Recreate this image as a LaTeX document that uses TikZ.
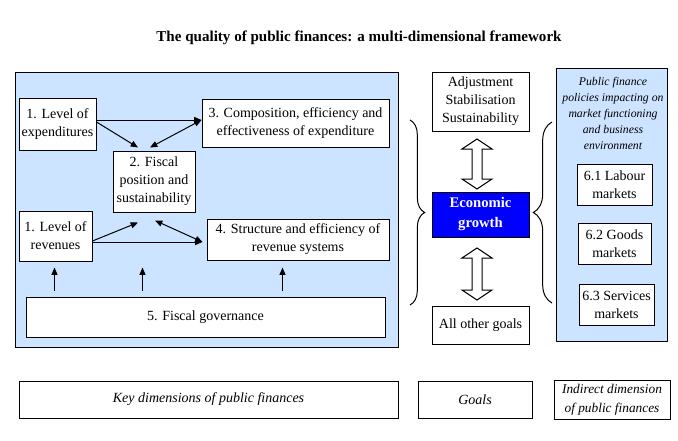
\documentclass[tikz,border=0pt]{standalone}
\usepackage{fontspec}
\setmainfont{Liberation Serif}
\usetikzlibrary{arrows.meta,calc,decorations.pathreplacing}
\definecolor{paleblue}{RGB}{204,228,255}
\definecolor{growthblue}{RGB}{0,0,255}
% box from pixel corners (x1,y1)-(x2,y2)
\newcommand\pbox[7]{\node[box,#6,minimum width={(#4-#2)*0.75pt},minimum height={(#5-#3)*0.75pt}] (#1) at ({(#2+#4)/2},{(#3+#5)/2}) {#7};}
\begin{document}
\begin{tikzpicture}[x=0.75pt,y=-0.75pt,
  box/.style={draw=black, line width=0.75pt, fill=white, inner sep=0pt, align=center, font=\fontsize{10.5}{13.5}\selectfont},
  panel/.style={fill=paleblue},
  arr/.style={line width=0.75pt, -{Triangle[length=5.5pt,width=4.5pt]}},
  darr/.style={line width=0.75pt, {Triangle[length=5.5pt,width=4.5pt]}-{Triangle[length=5.5pt,width=4.5pt]}},
  curly/.style={line width=0.75pt, decorate, decoration={brace, amplitude=#1}},
  blockarrow/.style={draw=black, line width=0.75pt, fill=white, line join=miter},
  itlabel/.style={font=\itshape\fontsize{10.5}{14}\selectfont}
]
\useasboundingbox (0,0) rectangle (678,440);

% title
\node[font=\bfseries\fontsize{11.3}{13}\selectfont, inner sep=0pt] (title) at (359,38)
  {The quality of public finances: a multi-dimensional framework};

% left panel
\pbox{left}{15}{72}{398}{347}{panel}{}
\pbox{exp}{19}{98}{96}{150}{}{1. Level of\\expenditures}
\pbox{comp}{202}{99}{389}{147}{}{3. Composition, efficiency and\\effectiveness of expenditure}
\pbox{fis}{113}{151}{195}{212}{}{2. Fiscal\\position and\\sustainability}
\pbox{rev}{19}{211}{92}{261}{}{1. Level of\\revenues}
\pbox{struct}{207}{219}{389}{260}{}{4. Structure and efficiency of\\revenue systems}
\pbox{gov}{26}{297}{385}{337}{}{5. Fiscal governance}

\draw[arr] ($(exp.east)+(0,-4)$) -- ($(comp.west)+(0,-3)$);
\draw[arr] ($(exp.east)+(0,-2)$) -- ($(fis.north)+(-16,-3)$);
\draw[darr] ($(comp.west)+(0,-3)$) -- ($(fis.north)+(-4,-3)$);
\draw[arr] ($(rev.east)+(0,5)$) -- ($(fis.south)+(-16,10)$);
\draw[darr] ($(fis.south)+(1,8)$) -- ($(struct.west)+(-4,2.5)$);
\draw[arr] ($(rev.east)+(0,6)$) -- ($(struct.west)+(-4,2.5)$);

\draw[arr] ($(gov.north west)+(29,-6)$) -- ++(0,-23);
\draw[arr] ($(gov.north west)+(117,-6)$) -- ++(0,-23);
\draw[arr] ($(gov.north west)+(257,-6)$) -- ++(0,-23);

% goals column
\pbox{adj}{432}{72}{529}{131}{}{Adjustment\\Stabilisation\\Sustainability}
\pbox{eco}{432}{192}{529}{237}{fill=growthblue, text=white, font=\bfseries\fontsize{11}{15}\selectfont}{Economic\\growth}
\pbox{other}{432}{306}{529}{344}{}{All other goals}

\coordinate (ua) at (477,139);
\draw[blockarrow] (ua) -- ++(15,10) -- ++(-10,0) -- ++(0,30) -- ++(10,0) -- ++(-15,10)
  -- ++(-15,-10) -- ++(10,0) -- ++(0,-30) -- ++(-10,0) -- cycle;
\coordinate (la) at (477,248);
\draw[blockarrow] (la) -- ++(15,10) -- ++(-10,0) -- ++(0,32) -- ++(10,0) -- ++(-15,10)
  -- ++(-15,-10) -- ++(10,0) -- ++(0,-32) -- ++(-10,0) -- cycle;

% braces
\draw[curly=11pt] (410,120) -- (410,305);
\draw[curly=14pt] (552,303) -- (552,122);

% right panel
\pbox{right}{556}{68}{667}{341}{panel}{}
\node[align=center, font=\itshape\fontsize{8.8}{12}\selectfont, inner sep=0pt] (policy) at (613,113.5)
  {Public finance\\policies impacting on\\market functioning\\and business\\environment};
\pbox{lab}{577}{164}{652}{205}{}{6.1 Labour\\markets}
\pbox{goods}{578}{223}{651}{264}{}{6.2 Goods\\markets}
\pbox{serv}{579}{284}{654}{325}{}{6.3 Services\\markets}

% bottom legend
\pbox{key}{19}{381}{398}{418}{itlabel}{Key dimensions of public finances}
\pbox{goals}{418}{381}{532}{418}{itlabel}{Goals}
\pbox{ind}{554}{380}{670}{419}{font=\itshape\fontsize{10}{14}\selectfont}{Indirect dimension\\of public finances}
\end{tikzpicture}
\end{document}
